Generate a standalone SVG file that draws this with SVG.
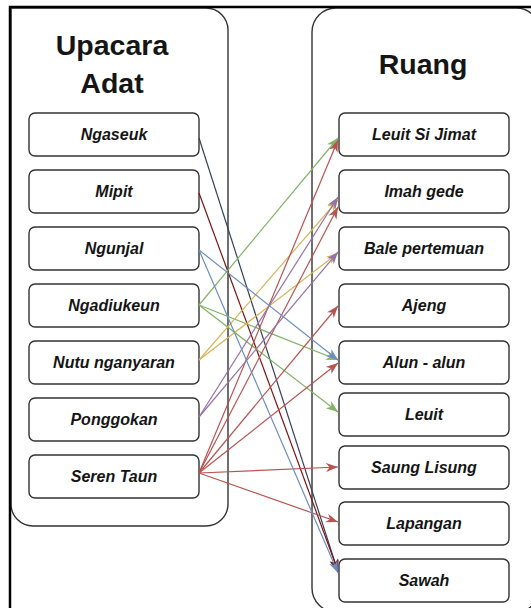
<svg xmlns="http://www.w3.org/2000/svg" width="531" height="608" viewBox="0 0 531 608">
<defs>
<style>
.box{fill:#fff;stroke:#333;stroke-width:1.4}
.cont{fill:#fff;stroke:#333;stroke-width:1.4}
.lbl{font-family:"Liberation Sans",Arial,sans-serif;font-weight:bold;font-style:italic;font-size:16px;fill:#151515;text-anchor:middle}
.ttl{font-family:"Liberation Sans",Arial,sans-serif;font-weight:bold;font-size:28.5px;fill:#151515;text-anchor:middle}
.e{fill:none;stroke-width:1.2}
.nv{stroke:#34435a}.dr{stroke:#7f1212}.bl{stroke:#6c8ebf}.gr{stroke:#82b366}.ye{stroke:#d6b656}.pu{stroke:#9673a6}.rd{stroke:#b85450}
</style>
<marker id="a-nv" markerUnits="userSpaceOnUse" markerWidth="14" markerHeight="12" refX="12" refY="4.5" orient="auto"><path d="M0,0 L12,4.5 L0,9 L3.5,4.5 z" fill="#34435a"/></marker>
<marker id="a-dr" markerUnits="userSpaceOnUse" markerWidth="14" markerHeight="12" refX="12" refY="4.5" orient="auto"><path d="M0,0 L12,4.5 L0,9 L3.5,4.5 z" fill="#7f1212"/></marker>
<marker id="a-bl" markerUnits="userSpaceOnUse" markerWidth="14" markerHeight="12" refX="12" refY="4.5" orient="auto"><path d="M0,0 L12,4.5 L0,9 L3.5,4.5 z" fill="#6c8ebf"/></marker>
<marker id="a-gr" markerUnits="userSpaceOnUse" markerWidth="14" markerHeight="12" refX="12" refY="4.5" orient="auto"><path d="M0,0 L12,4.5 L0,9 L3.5,4.5 z" fill="#82b366"/></marker>
<marker id="a-ye" markerUnits="userSpaceOnUse" markerWidth="14" markerHeight="12" refX="12" refY="4.5" orient="auto"><path d="M0,0 L12,4.5 L0,9 L3.5,4.5 z" fill="#d6b656"/></marker>
<marker id="a-pu" markerUnits="userSpaceOnUse" markerWidth="14" markerHeight="12" refX="12" refY="4.5" orient="auto"><path d="M0,0 L12,4.5 L0,9 L3.5,4.5 z" fill="#9673a6"/></marker>
<marker id="a-rd" markerUnits="userSpaceOnUse" markerWidth="14" markerHeight="12" refX="12" refY="4.5" orient="auto"><path d="M0,0 L12,4.5 L0,9 L3.5,4.5 z" fill="#b85450"/></marker>
</defs>
<rect width="531" height="608" fill="#fff"/>

<g id="upacara-adat">
<path class="cont" d="M11,8 H206 A22,22 0 0 1 228,30 V504 A22,22 0 0 1 206,526 H33 A22,22 0 0 1 11,504 Z"/>
<text class="ttl" x="112" y="55">Upacara</text>
<text class="ttl" x="112" y="93">Adat</text>
</g>
<g id="ruang">
<rect class="cont" x="312" y="8" width="228" height="604" rx="24"/>
<text class="ttl" x="423" y="74">Ruang</text>
</g>

<g id="frame" stroke="#000" stroke-width="2.5" fill="none">
<path d="M10,608 V7 H531"/>
</g>

<g id="n-ngaseuk"><rect class="box" x="29" y="113" width="170" height="43" rx="6"/><text class="lbl" x="114" y="140">Ngaseuk</text></g>
<g id="n-mipit"><rect class="box" x="29" y="170" width="170" height="43" rx="6"/><text class="lbl" x="114" y="197">Mipit</text></g>
<g id="n-ngunjal"><rect class="box" x="29" y="227" width="170" height="43" rx="6"/><text class="lbl" x="114" y="254">Ngunjal</text></g>
<g id="n-ngadiukeun"><rect class="box" x="29" y="284" width="170" height="43" rx="6"/><text class="lbl" x="114" y="311">Ngadiukeun</text></g>
<g id="n-nutu"><rect class="box" x="29" y="341" width="170" height="43" rx="6"/><text class="lbl" x="114" y="368">Nutu nganyaran</text></g>
<g id="n-ponggokan"><rect class="box" x="29" y="398" width="170" height="43" rx="6"/><text class="lbl" x="114" y="425">Ponggokan</text></g>
<g id="n-seren"><rect class="box" x="29" y="455" width="170" height="43" rx="6"/><text class="lbl" x="114" y="482">Seren Taun</text></g>

<g id="r-leuit-si-jimat"><rect class="box" x="339" y="113" width="170" height="43" rx="6"/><text class="lbl" x="424" y="140">Leuit Si Jimat</text></g>
<g id="r-imah-gede"><rect class="box" x="339" y="170" width="170" height="43" rx="6"/><text class="lbl" x="424" y="197">Imah gede</text></g>
<g id="r-bale"><rect class="box" x="339" y="227" width="170" height="43" rx="6"/><text class="lbl" x="424" y="254">Bale pertemuan</text></g>
<g id="r-ajeng"><rect class="box" x="339" y="284" width="170" height="43" rx="6"/><text class="lbl" x="424" y="311">Ajeng</text></g>
<g id="r-alun"><rect class="box" x="339" y="341" width="170" height="43" rx="6"/><text class="lbl" x="424" y="368">Alun - alun</text></g>
<g id="r-leuit"><rect class="box" x="339" y="393" width="170" height="43" rx="6"/><text class="lbl" x="424" y="420">Leuit</text></g>
<g id="r-saung"><rect class="box" x="339" y="446" width="170" height="43" rx="6"/><text class="lbl" x="424" y="473">Saung Lisung</text></g>
<g id="r-lapangan"><rect class="box" x="339" y="502" width="170" height="43" rx="6"/><text class="lbl" x="424" y="529">Lapangan</text></g>
<g id="r-sawah"><rect class="box" x="339" y="559" width="170" height="43" rx="6"/><text class="lbl" x="424" y="586">Sawah</text></g>

<g id="connectors">
<path class="e nv" d="M199,138 L338,572" marker-end="url(#a-nv)"/>
<path class="e dr" d="M199,193 L338,571" marker-end="url(#a-dr)"/>
<path class="e gr" d="M199,305 L338,138" marker-end="url(#a-gr)"/>
<path class="e gr" d="M199,305 L338,360" marker-end="url(#a-gr)"/>
<path class="e gr" d="M199,305 L338,412" marker-end="url(#a-gr)"/>
<path class="e ye" d="M199,360 L338,200" marker-end="url(#a-ye)"/>
<path class="e ye" d="M199,360 L338,253" marker-end="url(#a-ye)"/>
<path class="e rd" d="M199,473 L338,140" marker-end="url(#a-rd)"/>
<path class="e rd" d="M199,473 L338,207" marker-end="url(#a-rd)"/>
<path class="e rd" d="M199,473 L338,306" marker-end="url(#a-rd)"/>
<path class="e rd" d="M199,473 L338,363" marker-end="url(#a-rd)"/>
<path class="e rd" d="M199,473 L338,467" marker-end="url(#a-rd)"/>
<path class="e rd" d="M199,473 L338,522" marker-end="url(#a-rd)"/>
<path class="e pu" d="M199,417 L338,197" marker-end="url(#a-pu)"/>
<path class="e pu" d="M199,417 L338,252" marker-end="url(#a-pu)"/>
<path class="e bl" d="M199,250 L338,360" marker-end="url(#a-bl)"/>
<path class="e bl" d="M199,250 L338,573" marker-end="url(#a-bl)"/>
</g>
</svg>
